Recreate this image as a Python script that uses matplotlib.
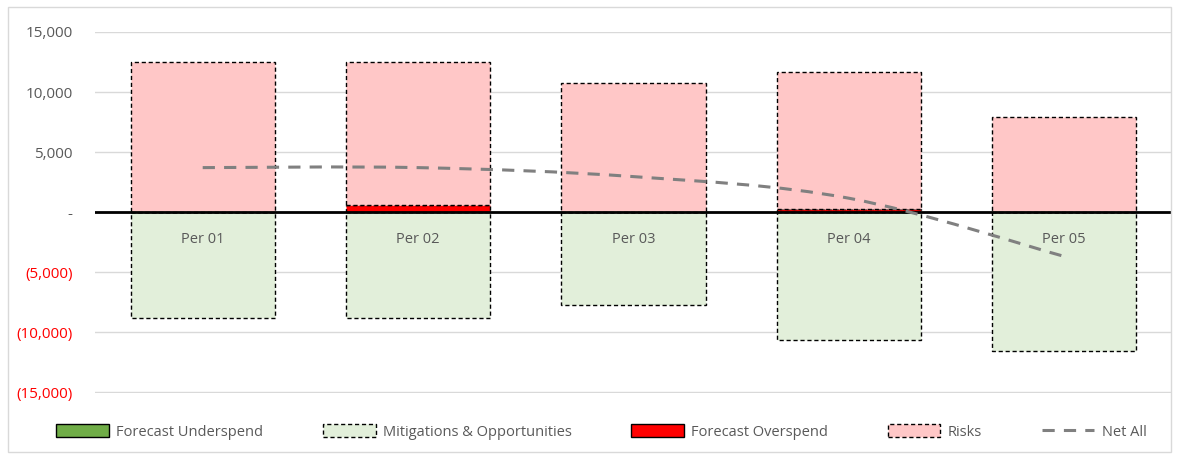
import numpy as np
import matplotlib.pyplot as plt
from matplotlib.path import Path
from matplotlib.patches import PathPatch, Rectangle, Patch
from matplotlib.lines import Line2D
from matplotlib.ticker import FuncFormatter

plt.rcParams['font.family'] = ['Open Sans', 'DejaVu Sans']

# values
periods = ['Per 01', 'Per 02', 'Per 03', 'Per 04', 'Per 05']
underspend = [0, 0, 0, 0, 0]
mitigations = [-8800, -8800, -7750, -10700, -11600]
overspend = [0, 600, 0, 250, 0]
risks = [12500, 11900, 10750, 11450, 7900]
net_all = [3700, 3700, 2950, 1150, -3700]

grey_txt = '#595959'

fig = plt.figure(figsize=(11.77, 4.59), dpi=100)
fig.patches.append(Rectangle((8 / 1177, 7 / 459), 1163 / 1177, 445 / 459, transform=fig.transFigure,
                             fill=False, edgecolor='#d9d9d9', linewidth=1))
ax = fig.add_axes([95 / 1177, 1 - 393 / 459, (1172 - 95) / 1177, 361 / 459])

x = np.arange(len(periods))
w = 0.67

# negative stack: underspend then mitigations below it
ax.bar(x, underspend, w, color='#70ad47', edgecolor='black', linewidth=1, zorder=2)
ax.bar(x, mitigations, w, bottom=underspend, color='#e2efda', edgecolor='black',
       linewidth=1, linestyle=(0, (3, 2)), zorder=2)
# positive stack: overspend then risks on top
ax.bar(x, overspend, w, color='#ff0000', edgecolor='black', linewidth=1,
       linestyle=(0, (3, 2)), zorder=2)
ax.bar(x, risks, w, bottom=overspend, color='#ffc7c7', edgecolor='black',
       linewidth=1, linestyle=(0, (3, 2)), zorder=2)

# smoothed net line (bezier like Excel's smoothed line)
px = list(x.astype(float))
py = list(net_all)
verts = [(px[0], py[0])]
codes = [Path.MOVETO]
n = len(px)
for i in range(n - 1):
    p0 = (px[max(i - 1, 0)], py[max(i - 1, 0)])
    p1 = (px[i], py[i])
    p2 = (px[i + 1], py[i + 1])
    p3 = (px[min(i + 2, n - 1)], py[min(i + 2, n - 1)])
    c1 = (p1[0] + (p2[0] - p0[0]) / 6, p1[1] + (p2[1] - p0[1]) / 6)
    c2 = (p2[0] - (p3[0] - p1[0]) / 6, p2[1] - (p3[1] - p1[1]) / 6)
    verts += [c1, c2, p2]
    codes += [Path.CURVE4] * 3
ax.add_patch(PathPatch(Path(verts, codes), fill=False, edgecolor='#808080', linewidth=2.2,
                       linestyle=(0, (4, 3)), zorder=4))

ax.axhline(0, color='black', linewidth=2, zorder=3)

for xi, name in zip(x, periods):
    ax.text(xi, -2300, name, ha='center', va='center', fontsize=10.5, color=grey_txt, zorder=5)

ax.set_xlim(-0.5, 4.5)
ax.set_ylim(-15080, 15000)
ax.set_yticks(np.arange(-15000, 15001, 5000))


def fmt(v, pos):
    if v == 0:
        return '-'
    if v < 0:
        return '({:,.0f})'.format(-v)
    return '{:,.0f}'.format(v)


ax.yaxis.set_major_formatter(FuncFormatter(fmt))
for lab, v in zip(ax.get_yticklabels(), ax.get_yticks()):
    lab.set_color('#ff0000' if v < 0 else grey_txt)
ax.tick_params(axis='y', length=0, labelsize=11, pad=16)
ax.set_xticks([])
ax.grid(axis='y', color='#d9d9d9', linewidth=1, zorder=0)
ax.set_axisbelow(True)
for s in ax.spines.values():
    s.set_visible(False)

handles = [
    Patch(facecolor='#70ad47', edgecolor='black', linewidth=1),
    Patch(facecolor='#e2efda', edgecolor='black', linewidth=1, linestyle=(0, (3, 2))),
    Patch(facecolor='#ff0000', edgecolor='black', linewidth=1),
    Patch(facecolor='#ffc7c7', edgecolor='black', linewidth=1, linestyle=(0, (3, 2))),
    Line2D([], [], color='#808080', linewidth=2.2, linestyle=(0, (4, 3))),
]
labels = ['Forecast Underspend', 'Mitigations & Opportunities', 'Forecast Overspend', 'Risks', 'Net All']
leg = fig.legend(handles, labels, loc='center', bbox_to_anchor=(0.511, 1 - 432 / 459), ncol=5,
                 frameon=False, fontsize=10.5, handlelength=3.6, handleheight=0.9,
                 columnspacing=4.1, handletextpad=0.5)
for t in leg.get_texts():
    t.set_color(grey_txt)

fig.savefig('out.png', dpi=100)
